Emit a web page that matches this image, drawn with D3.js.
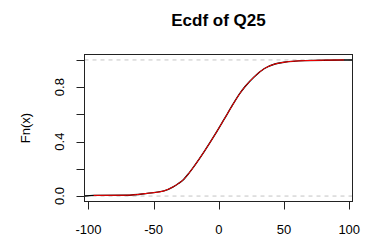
<!DOCTYPE html>
<html>
<head>
<meta charset="utf-8">
<script src="https://cdn.jsdelivr.net/npm/d3@7"></script>
<style>
  body { margin: 0; background: #fff; }
  text { font-family: "Liberation Sans", Arial, sans-serif; }
</style>
</head>
<body>
<script>
// values
var fnX = [-96, -71, -55, -42, -35, -31, -27, -23, -19, -11, -3, 4, 10, 16, 20, 27, 35, 43, 50, 66, 96];
var fnY = [0.005, 0.006, 0.02, 0.038, 0.068, 0.092, 0.122, 0.167, 0.218, 0.33, 0.451, 0.563, 0.66, 0.752, 0.803, 0.875, 0.937, 0.97, 0.983, 0.995, 1.0];
var xTicks = [-100, -50, 0, 50, 100];
var yTicks = [0, 0.2, 0.4, 0.6, 0.8, 1.0];
var yLabels = ["0.0", "", "0.4", "", "0.8", ""];
var refLines = [0, 1];

var width = 367, height = 240;
// plot box edges (window.top is reserved, so no "top" here)
var boxL = 84.5, boxR = 352.5, boxT = 54.5, boxB = 201.5;

var svg = d3.select("body").append("svg")
    .attr("width", width)
    .attr("height", height);

var x = d3.scaleLinear().domain([-103, 102.5]).range([boxL, boxR]);
var y = d3.scaleLinear().domain([-0.04, 1.04]).range([boxB, boxT]);

// gray dashed lines at 0 and 1
svg.selectAll("line.ref")
    .data(refLines)
    .enter().append("line")
    .attr("x1", boxL).attr("x2", boxR)
    .attr("y1", function(d) { return y(d); })
    .attr("y2", function(d) { return y(d); })
    .attr("stroke", "#c4c4c4")
    .attr("stroke-dasharray", "4,4");

var pts = fnX.map(function(d, i) { return [d, fnY[i]]; });

var line = d3.line()
    .x(function(d) { return x(d[0]); })
    .y(function(d) { return y(d[1]); })
    .curve(d3.curveMonotoneX);

// black ecdf, running out to the plot edges
var blackPts = [[x.domain()[0], 0]].concat(pts, [[x.domain()[1], 1]]);
svg.append("path")
    .attr("d", line(blackPts))
    .attr("fill", "none")
    .attr("stroke", "#000")
    .attr("stroke-width", 1.4);

// red curve on top
svg.append("path")
    .attr("d", line(pts))
    .attr("fill", "none")
    .attr("stroke", "#f00")
    .attr("stroke-width", 1);

// box
svg.append("rect")
    .attr("x", boxL).attr("y", boxT)
    .attr("width", boxR - boxL).attr("height", boxB - boxT)
    .attr("fill", "none")
    .attr("stroke", "#222");

// x axis ticks and labels
svg.selectAll("line.xt")
    .data(xTicks)
    .enter().append("line")
    .attr("x1", function(d) { return Math.round(x(d)) + 0.5; })
    .attr("x2", function(d) { return Math.round(x(d)) + 0.5; })
    .attr("y1", boxB).attr("y2", boxB + 8)
    .attr("stroke", "#222");

svg.selectAll("text.xl")
    .data(xTicks)
    .enter().append("text")
    .attr("x", function(d) { return x(d); })
    .attr("y", 233.5)
    .attr("text-anchor", "middle")
    .attr("font-size", 13)
    .text(function(d) { return d; });

// y axis ticks and labels
svg.selectAll("line.yt")
    .data(yTicks)
    .enter().append("line")
    .attr("x1", boxL - 8).attr("x2", boxL)
    .attr("y1", function(d) { return Math.round(y(d)) + 0.5; })
    .attr("y2", function(d) { return Math.round(y(d)) + 0.5; })
    .attr("stroke", "#222");

svg.selectAll("text.yl")
    .data(yTicks)
    .enter().append("text")
    .attr("transform", function(d) { return "translate(64," + y(d) + ") rotate(-90)"; })
    .attr("text-anchor", "middle")
    .attr("font-size", 13)
    .text(function(d, i) { return yLabels[i]; });

// axis title and main title
svg.append("text")
    .attr("transform", "translate(29.5," + ((boxT + boxB) / 2) + ") rotate(-90)")
    .attr("text-anchor", "middle")
    .attr("font-size", 13)
    .text("Fn(x)");

svg.append("text")
    .attr("x", (boxL + boxR) / 2)
    .attr("y", 25.5)
    .attr("text-anchor", "middle")
    .attr("font-size", 17)
    .attr("font-weight", "bold")
    .text("Ecdf of Q25");
</script>
</body>
</html>
